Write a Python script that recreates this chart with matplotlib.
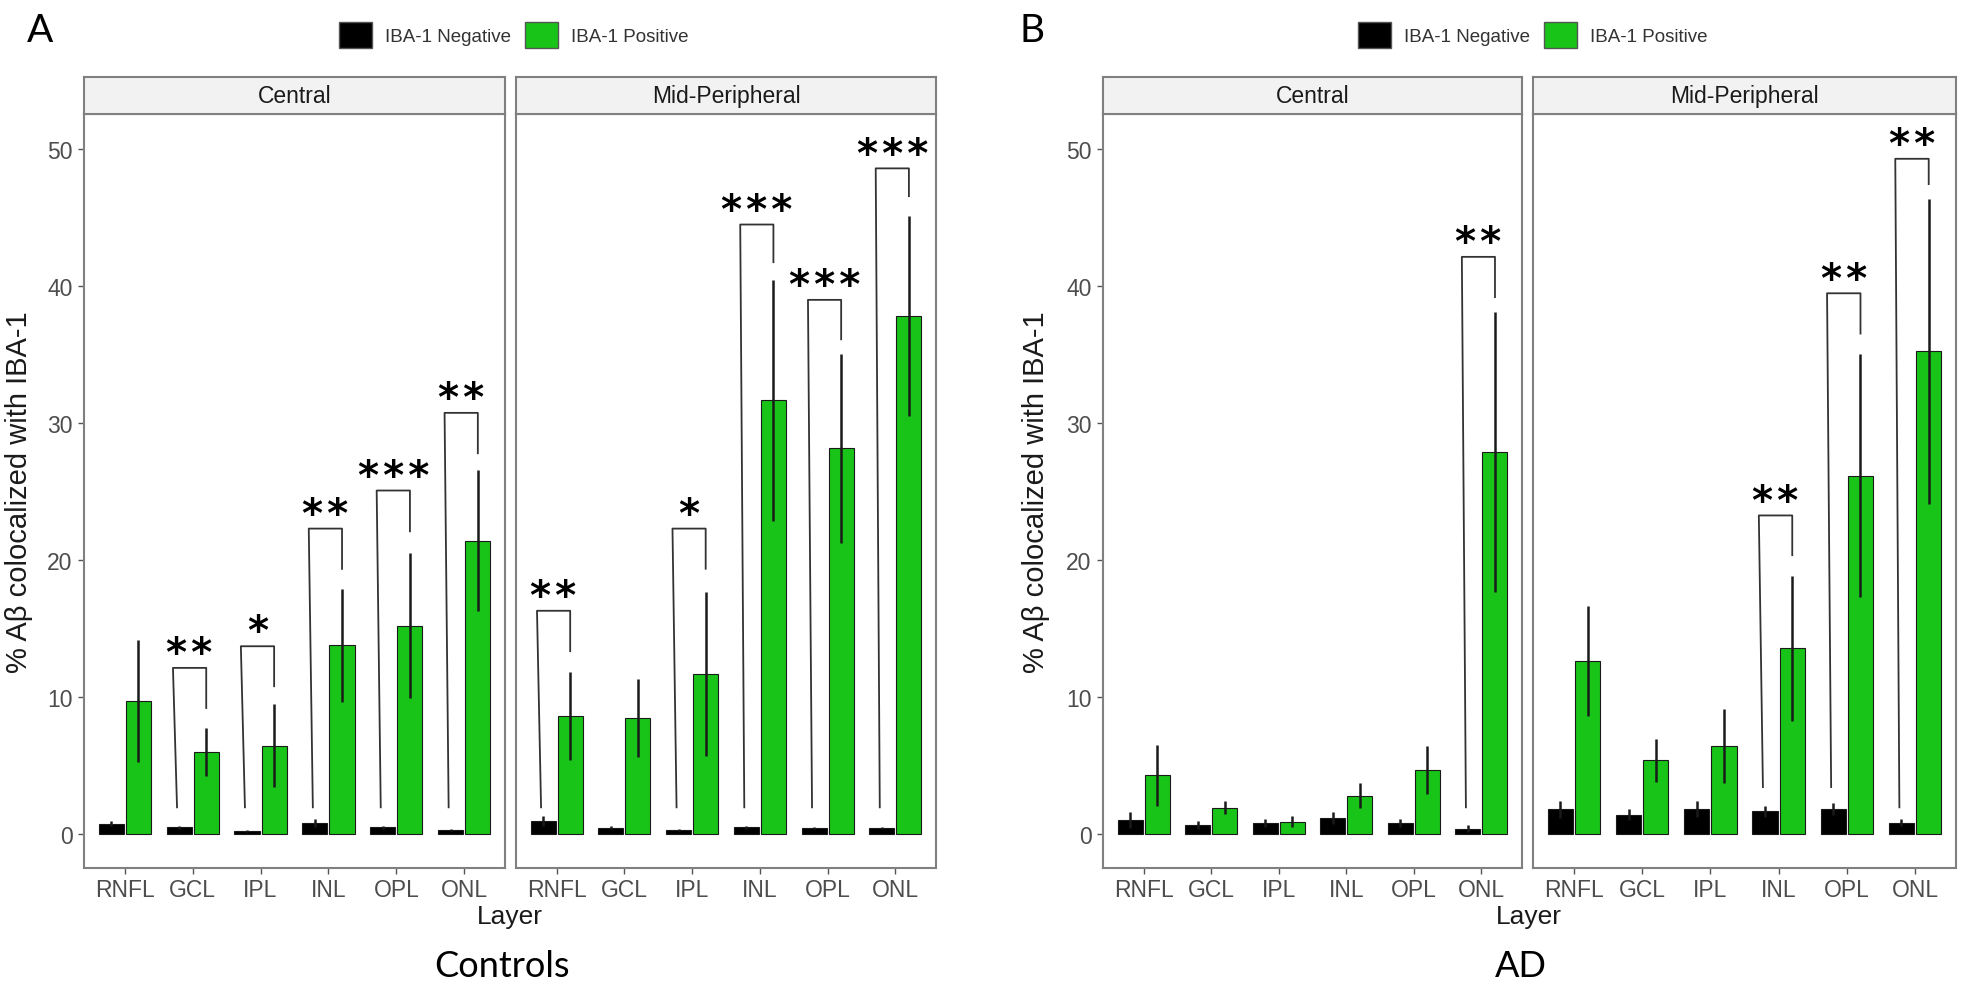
import numpy as np
import matplotlib as mpl
mpl.use('Agg')
import matplotlib.pyplot as plt
from matplotlib.patches import Patch

W, H = 1961, 987
GREEN = '#18C418'
SANS = 'Liberation Sans'

layers = ["RNFL", "GCL", "IPL", "INL", "OPL", "ONL"]
regions = ["Central", "Mid-Peripheral"]
legend_labels = ["IBA-1 Negative", "IBA-1 Positive"]

# Controls (panel A)
ctrl_central_neg = [0.75, 0.49, 0.24, 0.80, 0.49, 0.32]
ctrl_central_neg_err = [0.18, 0.12, 0.06, 0.30, 0.12, 0.07]
ctrl_central_pos = [9.74, 5.99, 6.45, 13.78, 15.2, 21.4]
ctrl_central_pos_err = [4.46, 1.76, 3.03, 4.14, 5.3, 5.15]
ctrl_mid_neg = [0.96, 0.46, 0.32, 0.50, 0.42, 0.42]
ctrl_mid_neg_err = [0.34, 0.12, 0.07, 0.10, 0.07, 0.07]
ctrl_mid_pos = [8.64, 8.5, 11.69, 31.66, 28.15, 37.82]
ctrl_mid_pos_err = [3.2, 2.85, 6.0, 8.8, 6.9, 7.3]

# AD (panel B)
ad_central_neg = [1.03, 0.64, 0.78, 1.17, 0.78, 0.39]
ad_central_neg_err = [0.60, 0.29, 0.30, 0.47, 0.30, 0.25]
ad_central_pos = [4.28, 1.93, 0.9, 2.81, 4.65, 27.9]
ad_central_pos_err = [2.2, 0.5, 0.4, 0.9, 1.76, 10.2]
ad_mid_neg = [1.80, 1.42, 1.83, 1.66, 1.83, 0.83]
ad_mid_neg_err = [0.60, 0.42, 0.60, 0.39, 0.43, 0.25]
ad_mid_pos = [12.64, 5.38, 6.44, 13.56, 26.17, 35.23]
ad_mid_pos_err = [4.0, 1.55, 2.7, 5.3, 8.9, 11.1]

# significance brackets: layer index, label, top, right tip end, left base
ctrl_central_sig_layer = [1, 2, 3, 4, 5]
ctrl_central_sig_label = ["**", "*", "**", "***", "**"]
ctrl_central_sig_top = [12.13, 13.71, 22.3, 25.08, 30.75]
ctrl_central_sig_tip = [9.2, 10.79, 19.36, 22.1, 27.8]
ctrl_central_sig_base = [1.95, 1.95, 1.95, 1.95, 1.95]

ctrl_mid_sig_layer = [0, 2, 3, 4, 5]
ctrl_mid_sig_label = ["**", "*", "***", "***", "***"]
ctrl_mid_sig_top = [16.3, 22.3, 44.5, 39.0, 48.6]
ctrl_mid_sig_tip = [13.35, 19.37, 41.75, 36.12, 46.57]
ctrl_mid_sig_base = [1.95, 1.95, 1.95, 1.95, 1.95]

ad_central_sig_layer = [5]
ad_central_sig_label = ["**"]
ad_central_sig_top = [42.14]
ad_central_sig_tip = [39.2]
ad_central_sig_base = [1.95]

ad_mid_sig_layer = [3, 4, 5]
ad_mid_sig_label = ["**", "**", "**"]
ad_mid_sig_top = [23.26, 39.48, 49.3]
ad_mid_sig_tip = [20.36, 36.54, 47.45]
ad_mid_sig_base = [3.43, 3.43, 1.95]


def px_box(x0, x1, y0, y1):
    return [x0 / W, 1 - y1 / H, (x1 - x0) / W, (y1 - y0) / H]


def draw_facet(fig, xr, title, neg, neg_err, pos, pos_err, sig, first):
    ax = fig.add_axes(px_box(xr[0], xr[1], 115, 869))
    x = np.arange(len(layers))
    ax.bar(x - 0.2, neg, width=0.37, color='black', edgecolor='#1a1a1a', lw=0.8)
    ax.bar(x + 0.2, pos, width=0.37, color=GREEN, edgecolor='#1a1a1a', lw=0.8)
    ax.errorbar(x - 0.2, neg, yerr=neg_err, fmt='none', ecolor='#1a1a1a',
                elinewidth=1.8, capsize=0)
    ax.errorbar(x + 0.2, pos, yerr=pos_err, fmt='none', ecolor='#1a1a1a',
                elinewidth=1.8, capsize=0)
    for i, lab, top, tip, base in zip(*sig):
        ax.plot([i - 0.23, i - 0.29, i + 0.2, i + 0.2], [base, top, top, tip],
                color='#333333', lw=1.3)
        ax.annotate('\u200a'.join(lab), xy=(i - 0.045, top), xytext=(0, 2),
                    textcoords='offset points', ha='center', va='baseline',
                    fontsize=29, fontweight='bold', family='DejaVu Sans')
    ax.set_xlim(-0.6, 5.6)
    ax.set_ylim(-2.48, 52.57)
    ax.set_xticks(x)
    ax.set_xticklabels(layers, family=SANS, fontsize=16.5, color='#4D4D4D')
    ax.set_yticks([0, 10, 20, 30, 40, 50])
    if first:
        ax.set_yticklabels(['0', '10', '20', '30', '40', '50'], family=SANS,
                           fontsize=16.5, color='#4D4D4D')
        ax.tick_params(axis='y', length=4.3, width=1, color='#555555', pad=4)
    else:
        ax.tick_params(axis='y', left=False, labelleft=False)
    ax.tick_params(axis='x', length=4.3, width=1, color='#555555', pad=3)
    for s in ax.spines.values():
        s.set_color('#808080')
        s.set_linewidth(1.5)

    # facet strip
    st = fig.add_axes(px_box(xr[0], xr[1], 78, 115))
    st.set_facecolor('#F2F2F2')
    st.set_xticks([])
    st.set_yticks([])
    for s in st.spines.values():
        s.set_color('#808080')
        s.set_linewidth(1.5)
    st.text(0.5, 0.5, title, ha='center', va='center', transform=st.transAxes,
            family=SANS, fontsize=16.5, color='#1A1A1A')
    return ax


def draw_panel(fig, letter, facets, center, ylab_x, letter_x, caption, panel_data):
    for k, (xr, d) in enumerate(zip(facets, panel_data)):
        draw_facet(fig, xr, regions[k], *d, first=(k == 0))
    fig.text(ylab_x / W, 1 - 492 / H, '% A\u03b2 colocalized with IBA-1',
             rotation=90, ha='center', va='center', fontsize=21,
             family=SANS, color='#1A1A1A')
    fig.text(center / W, 1 - 917 / H, 'Layer', ha='center', va='center',
             fontsize=19, family=SANS, color='#1A1A1A')
    fig.text((center - 8) / W, 1 - 967 / H, caption, ha='center', va='center',
             fontsize=26, family='Lato')
    fig.text(letter_x / W, 1 - 31 / H, letter, ha='center', va='center',
             fontsize=28, family='Lato')
    handles = [Patch(facecolor='black', edgecolor='#555555', lw=1),
               Patch(facecolor=GREEN, edgecolor='#555555', lw=1)]
    fig.legend(handles, legend_labels, loc='center', ncol=2, frameon=False,
               bbox_to_anchor=((center + 4) / W, 1 - 36 / H),
               prop={'family': SANS, 'size': 13.5}, labelcolor='#333333',
               handlelength=1.76, handleheight=1.7, handletextpad=0.7,
               columnspacing=0.75)


def main():
    fig = plt.figure(figsize=(W / 100, H / 100), dpi=100)
    ctrl = [
        (ctrl_central_neg, ctrl_central_neg_err, ctrl_central_pos, ctrl_central_pos_err,
         (ctrl_central_sig_layer, ctrl_central_sig_label, ctrl_central_sig_top,
          ctrl_central_sig_tip, ctrl_central_sig_base)),
        (ctrl_mid_neg, ctrl_mid_neg_err, ctrl_mid_pos, ctrl_mid_pos_err,
         (ctrl_mid_sig_layer, ctrl_mid_sig_label, ctrl_mid_sig_top,
          ctrl_mid_sig_tip, ctrl_mid_sig_base)),
    ]
    ad = [
        (ad_central_neg, ad_central_neg_err, ad_central_pos, ad_central_pos_err,
         (ad_central_sig_layer, ad_central_sig_label, ad_central_sig_top,
          ad_central_sig_tip, ad_central_sig_base)),
        (ad_mid_neg, ad_mid_neg_err, ad_mid_pos, ad_mid_pos_err,
         (ad_mid_sig_layer, ad_mid_sig_label, ad_mid_sig_top,
          ad_mid_sig_tip, ad_mid_sig_base)),
    ]
    draw_panel(fig, 'A', [(84, 505), (516, 936)], 510, 19, 40, 'Controls', ctrl)
    draw_panel(fig, 'B', [(1103, 1522), (1533, 1956)], 1529, 1036, 1032, 'AD', ad)
    fig.savefig('out.png', dpi=100)


if __name__ == "__main__":
    main()
